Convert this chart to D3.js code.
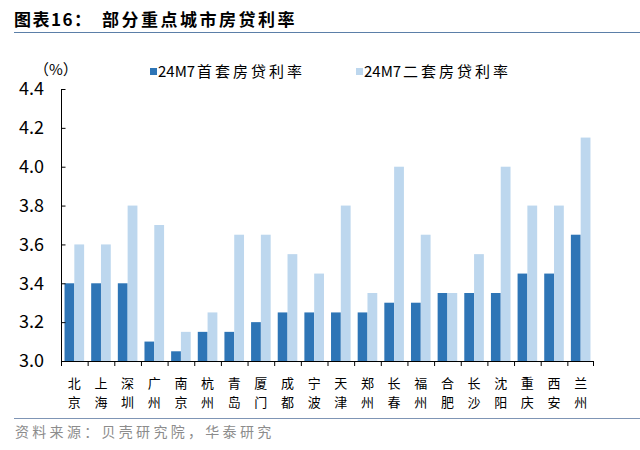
<!DOCTYPE html>
<html>
<head>
<meta charset="utf-8">
<script src="https://cdn.jsdelivr.net/npm/d3@7"></script>
<style>
  body { margin: 0; background: #fff; }
  svg text { font-family: "Noto Sans CJK SC", "Noto Sans", sans-serif; }
</style>
</head>
<body>
<div id="chart"></div>
<script>
// data
const cities = ["北京","上海","深圳","广州","南京","杭州","青岛","厦门","成都","宁波",
                "天津","郑州","长春","福州","合肥","长沙","沈阳","重庆","西安","兰州"];
const firstHome = [3.40,3.40,3.40,3.10,3.05,3.15,3.15,3.20,3.25,3.25,
                   3.25,3.25,3.30,3.30,3.35,3.35,3.35,3.45,3.45,3.65];
const secondHome = [3.60,3.60,3.80,3.70,3.15,3.25,3.65,3.65,3.55,3.45,
                    3.80,3.35,4.00,3.65,3.35,3.55,4.00,3.80,3.80,4.15];
const seriesCodes = ["24M7", "24M7"];
const seriesNames = ["首套房贷利率", "二套房贷利率"];
const yTicks = [3.0, 3.2, 3.4, 3.6, 3.8, 4.0, 4.2, 4.4];
const colors = ["#2E75B6", "#BDD7EE"];

const W = 640, H = 450;
const margin = {top: 89, right: 46, bottom: 89, left: 61};
const width = W - margin.left - margin.right;
const height = H - margin.top - margin.bottom;

const svg = d3.select("#chart").append("svg")
    .attr("width", W)
    .attr("height", H);

// title
svg.append("text")
    .attr("x", 14).attr("y", 26)
    .attr("font-size", 17).attr("font-weight", "bold")
    .attr("letter-spacing", 1.5)
    .attr("fill", "#000")
    .text("图表16：");
svg.append("text")
    .attr("x", 102).attr("y", 26)
    .attr("font-size", 17).attr("font-weight", "bold")
    .attr("letter-spacing", 2.5)
    .attr("fill", "#000")
    .text("部分重点城市房贷利率");

svg.append("line")
    .attr("x1", 14).attr("x2", 640).attr("y1", 32.5).attr("y2", 32.5)
    .attr("stroke", "#5B7FA8").attr("stroke-width", 1);

// footer
svg.append("line")
    .attr("x1", 14).attr("x2", 640).attr("y1", 418.5).attr("y2", 418.5)
    .attr("stroke", "#7F95B5").attr("stroke-width", 1);

svg.append("text")
    .attr("x", 15).attr("y", 437)
    .attr("font-size", 14).attr("fill", "#8C8C8C")
    .attr("letter-spacing", 3.3)
    .text("资料来源：贝壳研究院，华泰研究");

const g = svg.append("g")
    .attr("transform", "translate(" + margin.left + "," + margin.top + ")");

const x = d3.scaleBand()
    .domain(cities)
    .range([0, width])
    .paddingInner(0)
    .paddingOuter(0);

const xInner = d3.scaleBand()
    .domain([0, 1])
    .range([0, x.bandwidth()])
    .paddingOuter(0.36)
    .paddingInner(0);

const y = d3.scaleLinear()
    .domain([3.0, 4.4])
    .range([height, 0]);

// bars
const rows = cities.map((c, i) => ({city: c, vals: [firstHome[i], secondHome[i]]}));

const groups = g.selectAll(".city")
    .data(rows)
    .enter().append("g")
    .attr("class", "city")
    .attr("transform", d => "translate(" + x(d.city) + ",0)");

groups.selectAll("rect")
    .data(d => d.vals.map((v, k) => ({v: v, k: k})))
    .enter().append("rect")
    .attr("x", d => xInner(d.k))
    .attr("width", xInner.bandwidth())
    .attr("y", d => y(d.v))
    .attr("height", d => height - y(d.v))
    .attr("fill", d => colors[d.k]);

// y axis
const yAxis = d3.axisRight(y)
    .tickValues(yTicks)
    .tickFormat(d3.format(".1f"))
    .tickSize(4);

const yG = g.append("g").attr("class", "y-axis").call(yAxis);
yG.select(".domain").attr("stroke", "#000").attr("d", "M0.5," + height + "V0");
yG.selectAll(".tick line").attr("stroke", "#000").attr("x1", 0.5).attr("x2", 4.5);
yG.selectAll(".tick text")
    .attr("x", -17)
    .attr("text-anchor", "end")
    .attr("font-size", 18)
    .attr("font-family", "Liberation Sans, Arial, sans-serif")
    .attr("fill", "#000");

// x axis
const xG = g.append("g")
    .attr("transform", "translate(0," + height + ")");
xG.append("line")
    .attr("x1", 0).attr("x2", width)
    .attr("y1", 0.5).attr("y2", 0.5)
    .attr("stroke", "#000");
xG.selectAll(".xtick")
    .data(d3.range(cities.length + 1))
    .enter().append("line")
    .attr("x1", i => i < cities.length ? x(cities[i]) + 0.5 : width - 0.5)
    .attr("x2", i => i < cities.length ? x(cities[i]) + 0.5 : width - 0.5)
    .attr("y1", 0).attr("y2", 5)
    .attr("stroke", "#000");

// two-character labels stacked vertically
[0, 1].forEach(row => {
    xG.selectAll(".xlabel" + row)
        .data(cities)
        .enter().append("text")
        .attr("class", "xlabel" + row)
        .attr("text-anchor", "middle")
        .attr("font-size", 13)
        .attr("fill", "#000")
        .attr("x", d => x(d) + x.bandwidth() / 2)
        .attr("y", row === 0 ? 27 : 45.5)
        .text(d => d[row]);
});

// unit label
svg.append("text")
    .attr("x", 34).attr("y", 75)
    .attr("font-size", 15)
    .attr("fill", "#000")
    .text("（%）");

// legend
const legendX = [150, 356];
const legend = svg.selectAll(".legend")
    .data(seriesNames)
    .enter().append("g")
    .attr("class", "legend")
    .attr("transform", (d, i) => "translate(" + legendX[i] + ",71)");
legend.append("rect")
    .attr("x", 0).attr("y", -3)
    .attr("width", 7).attr("height", 7)
    .attr("fill", (d, i) => colors[i]);
legend.append("text")
    .attr("x", 8).attr("y", 6)
    .attr("font-size", 15)
    .attr("font-family", "Liberation Sans, Arial, sans-serif")
    .attr("fill", "#000")
    .text((d, i) => seriesCodes[i]);
legend.append("text")
    .attr("x", 47).attr("y", 6)
    .attr("font-size", 15)
    .attr("letter-spacing", 3)
    .attr("fill", "#000")
    .text(d => d);
</script>
</body>
</html>
